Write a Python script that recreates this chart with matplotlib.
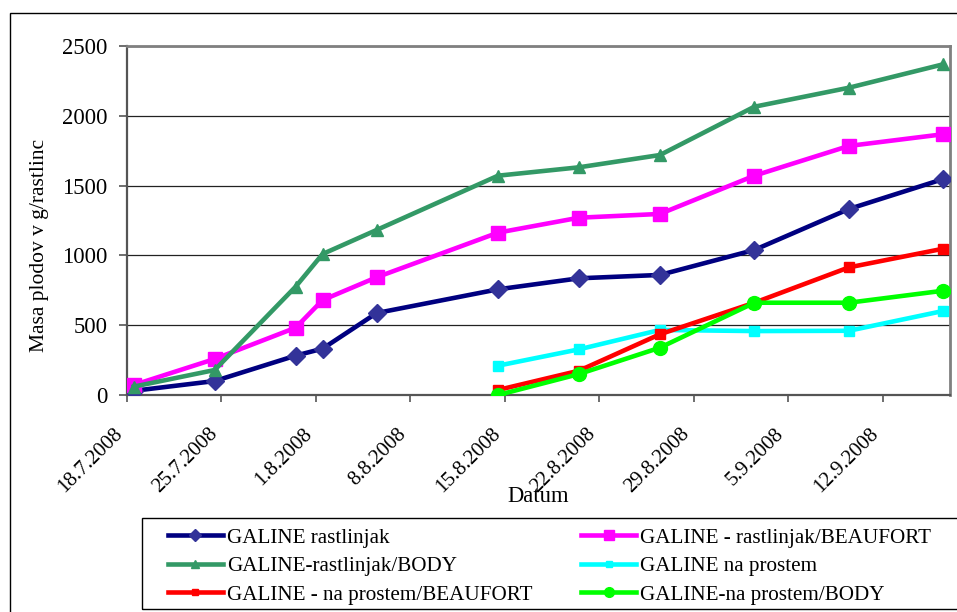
import matplotlib
matplotlib.use("Agg")
import matplotlib.pyplot as plt
import matplotlib.dates as mdates
from matplotlib.patches import Rectangle
from matplotlib.ticker import FuncFormatter, MultipleLocator
import datetime as dt

plt.rcParams['font.family'] = ['Liberation Serif', 'DejaVu Serif']

dates_rastlinjak = ['18.7.2008', '24.7.2008', '30.7.2008', '1.8.2008', '5.8.2008',
                    '14.8.2008', '20.8.2008', '26.8.2008', '2.9.2008', '9.9.2008', '16.9.2008']
dates_prostem = ['14.8.2008', '20.8.2008', '26.8.2008', '2.9.2008', '9.9.2008', '16.9.2008']

galine_rastlinjak = [30, 100, 282, 332, 587, 757, 836, 860, 1039, 1332, 1547]
galine_rastlinjak_beaufort = [72, 258, 482, 680, 843, 1163, 1270, 1297, 1571, 1784, 1868]
galine_rastlinjak_body = [60, 179, 776, 1010, 1182, 1571, 1631, 1719, 2065, 2201, 2369]
galine_prostem = [210, 327, 466, 458, 460, 602]
galine_prostem_beaufort = [36, 174, 435, 661, 914, 1048]
galine_prostem_body = [0, 150, 339, 661, 661, 747]

labels = ['GALINE rastlinjak', 'GALINE - rastlinjak/BEAUFORT', 'GALINE-rastlinjak/BODY',
          'GALINE na prostem', 'GALINE - na prostem/BEAUFORT', 'GALINE-na prostem/BODY']
x_ticks = ['18.7.2008', '25.7.2008', '1.8.2008', '8.8.2008', '15.8.2008',
           '22.8.2008', '29.8.2008', '5.9.2008', '12.9.2008']


def parse(s):
    d, m, y = s.split('.')
    return dt.datetime(int(y), int(m), int(d))


half = dt.timedelta(hours=12)
xr = [parse(s) + half for s in dates_rastlinjak]
xp = [parse(s) + half for s in dates_prostem]

fig = plt.figure(figsize=(9.57, 6.12), dpi=100)
W, H = 957, 612
ax = fig.add_axes([127 / W, 1 - 395 / H, (950 - 127) / W, (395 - 46) / H])

series = [
    (xr, galine_rastlinjak, '#000080', 'D', '#333399', 9),
    (xr, galine_rastlinjak_beaufort, '#FF00FF', 's', '#FF00FF', 10),
    (xr, galine_rastlinjak_body, '#339966', '^', '#339966', 9),
    (xp, galine_prostem, '#00FFFF', 's', '#00FFFF', 7),
    (xp, galine_prostem_beaufort, '#FF0000', 's', '#FF0000', 7),
    (xp, galine_prostem_body, '#00FF00', 'o', '#00FF00', 10),
]
handles = []
for (x, y, c, m, mc, ms), lab in zip(series, labels):
    h, = ax.plot(x, y, color=c, lw=3.3, marker=m, markersize=ms,
                 markerfacecolor=mc, markeredgecolor=mc, label=lab, zorder=3)
    handles.append(h)

ax.set_xlim(parse('18.7.2008'), parse('17.9.2008'))
ax.set_ylim(0, 2500)
ax.set_xticks([parse(s) for s in x_ticks])
ax.xaxis.set_major_formatter(FuncFormatter(
    lambda v, p: (lambda d: f"{d.day}.{d.month}.{d.year}")(mdates.num2date(v))))
ax.yaxis.set_major_locator(MultipleLocator(500))
ax.grid(axis='y', color='#222222', lw=0.9, zorder=1)
ax.set_axisbelow(True)

for side in ['top', 'right']:
    ax.spines[side].set_color('#808080')
    ax.spines[side].set_linewidth(2)
for side in ['left', 'bottom']:
    ax.spines[side].set_color('#555555')
    ax.spines[side].set_linewidth(1.6)

ax.tick_params(axis='y', direction='out', length=6, width=1.2, color='#555555',
               labelsize=16.3, pad=8)
ax.tick_params(axis='x', direction='out', length=5, width=1.2, color='#555555',
               labelsize=15.0, pad=16)
for t in ax.get_xticklabels():
    t.set_rotation(45)
    t.set_ha('right')
    t.set_va('top')

fig.text(40 / W, 1 - 245 / H, 'Masa plodov v g/rastlinc', rotation=90,
         ha='center', va='center', fontsize=15.5)
fig.text(538 / W, 1 - 497 / H, 'Datum', ha='center', va='center', fontsize=16.3)

# outer chart border
fig.patches.append(Rectangle((10 / W, -0.05), 2, 1 - 13 / H + 0.05, transform=fig.transFigure,
                             fill=False, edgecolor='black', lw=1.0))
# legend frame
fig.patches.append(Rectangle((142 / W, 1 - 609 / H), 2, (609 - 518) / H,
                             transform=fig.transFigure, fill=False, edgecolor='black', lw=1.0))

order = [0, 2, 4, 1, 3, 5]
leg = fig.legend([handles[i] for i in order], [labels[i] for i in order],
                 ncol=2, loc='upper left', bbox_to_anchor=(168 / W, 1 - 528 / H),
                 frameon=False, fontsize=15.2, handlelength=2.6, handletextpad=0.2,
                 columnspacing=2.3, labelspacing=0.41, borderpad=0, borderaxespad=0,
                 markerscale=0.7)

fig.savefig('out.png', dpi=100)
